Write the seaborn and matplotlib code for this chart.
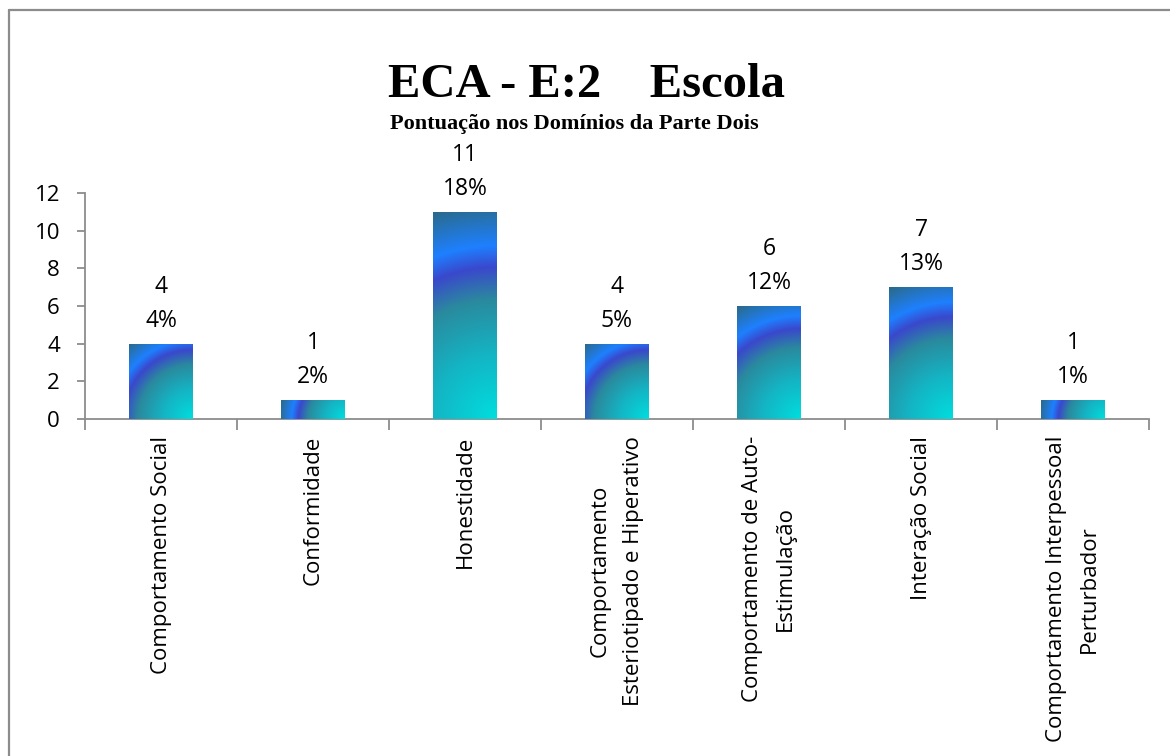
import numpy as np
import pandas as pd
import matplotlib
matplotlib.use("Agg")
import matplotlib.pyplot as plt
from matplotlib.colors import LinearSegmentedColormap
from matplotlib.lines import Line2D
import seaborn as sns

categories = [
    "Comportamento Social",
    "Conformidade",
    "Honestidade",
    "Comportamento\nEsteriotipado e Hiperativo",
    "Comportamento de Auto-\nEstimulação",
    "Interação Social",
    "Comportamento Interpessoal\nPerturbador",
]
values = [4, 1, 11, 4, 6, 7, 1]
percents = ["4%", "2%", "18%", "5%", "12%", "13%", "1%"]
yticks = [0, 2, 4, 6, 8, 10, 12]

sns.set_theme(style="white")
plt.rcParams['font.family'] = ['Open Sans', 'DejaVu Sans']
plt.rcParams['text.color'] = 'black'

W, H = 1170, 756
fig = plt.figure(figsize=(W / 100, H / 100), dpi=100)
ax = fig.add_axes([85 / W, 1 - 419 / H, (1149 - 85) / W, (419 - 193) / H])

df = pd.DataFrame({"cat": categories, "val": values})
sns.barplot(data=df, x="cat", y="val", ax=ax, width=0.415, color="#2a8a9a",
            saturation=1, linewidth=0)

cmap = LinearSegmentedColormap.from_list("grad", [
    (0.0, "#00dede"),
    (0.30, "#14b4c4"),
    (0.55, "#2a8a9e"),
    (0.70, "#3a48cc"),
    (0.80, "#1e80ff"),
    (1.0, "#2a6a88"),
])
ax.set_xlim(-0.5, len(categories) - 0.5)
ax.set_ylim(0, 12)
fig.canvas.draw()
px_per_x = ax.transData.transform((1, 0))[0] - ax.transData.transform((0, 0))[0]
px_per_y = ax.transData.transform((0, 1))[1] - ax.transData.transform((0, 0))[1]
for p in ax.patches:
    x0, y0 = p.get_x(), p.get_y()
    w, h = p.get_width(), p.get_height()
    wp, hp = w * px_per_x, h * px_per_y
    uu, vv = np.meshgrid(np.linspace(0, 1, 120), np.linspace(0, 1, 300))
    rr = np.sqrt(((1 - uu) * wp) ** 2 + (vv * hp) ** 2) / np.hypot(wp, hp)
    im = ax.imshow(rr, cmap=cmap, vmin=0, vmax=1, origin="lower",
                   extent=[x0, x0 + w, y0, y0 + h], aspect="auto",
                   interpolation="bilinear", zorder=3)
    im.set_clip_path(p)

ax.set_xlim(-0.5, len(categories) - 0.5)
ax.set_ylim(0, 12)
ax.set_yticks(yticks)
ax.set_xlabel("")
ax.set_ylabel("")

for i, (v, pc) in enumerate(zip(values, percents)):
    ax.annotate(pc, (i, v), xytext=(0, 17), textcoords="offset pixels",
                ha="center", va="baseline", fontsize=16.5, color="black",
                annotation_clip=False)
    ax.annotate(str(v), (i, v), xytext=(0, 51), textcoords="offset pixels",
                ha="center", va="baseline", fontsize=16.5, color="black",
                annotation_clip=False)

gray = "#8c8c8c"
for s in ["top", "right"]:
    ax.spines[s].set_visible(False)
for s in ["left", "bottom"]:
    ax.spines[s].set_color(gray)
    ax.spines[s].set_linewidth(1.3)

ax.tick_params(axis="y", which="major", direction="out", length=6, width=1.3,
               color=gray, labelsize=16, labelcolor="black", pad=12, left=True)
ax.set_xticks(range(len(categories)))
ax.set_xticklabels(categories, rotation=90, ha="center", va="top",
                   fontsize=16, linespacing=1.75)
ax.tick_params(axis="x", which="major", length=0, pad=12, labelcolor="black")
ax.set_xticks(np.arange(-0.5, len(categories) + 0.5, 1), minor=True)
ax.tick_params(axis="x", which="minor", direction="out", length=8, width=1.3,
               color=gray, bottom=True)

fig.text(587 / W, 1 - 85 / H, "ECA - E:2    Escola", ha="center", va="center",
         fontsize=35, fontweight="bold", family=["Liberation Serif"],
         color="black")
fig.text(574 / W, 1 - 124 / H, "Pontuação nos Domínios da Parte Dois",
         ha="center", va="center", fontsize=16, fontweight="bold",
         family=["Liberation Serif"], color="black")

fig.add_artist(Line2D([8.5 / W, 8.5 / W], [0, 1 - 9.5 / H], color=gray,
                      linewidth=1.6, transform=fig.transFigure))
fig.add_artist(Line2D([8.5 / W, 1.0], [1 - 9.5 / H, 1 - 9.5 / H], color=gray,
                      linewidth=1.6, transform=fig.transFigure))

fig.savefig("out.png", dpi=100, facecolor="white")
